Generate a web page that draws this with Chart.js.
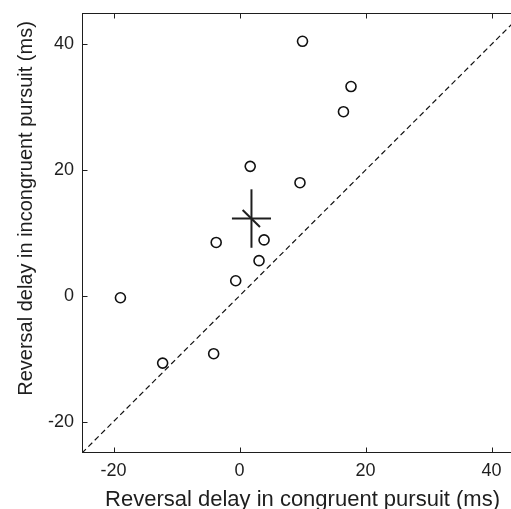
<!DOCTYPE html>
<html><head><meta charset="utf-8">
<script src="https://cdn.jsdelivr.net/npm/chart.js@4"></script>
<style>
html,body{margin:0;padding:0;background:#fff;overflow:hidden;width:511px;height:509px}
#wrap{width:540px;height:509px;position:relative}
canvas{display:block}
</style></head>
<body><div id="wrap"><canvas id="c" width="540" height="509"></canvas></div>
<script>
// ---- data ----
const congruentDelay   = [-18.9, -12.2, -4.1, -3.7, -0.6, 1.7, 3.1, 3.9, 9.6, 10.0, 16.5, 17.7];
const incongruentDelay = [-0.3, -10.7, -9.2, 8.5, 2.4, 20.6, 5.6, 8.9, 18.0, 40.5, 29.3, 33.3];
const axisRange = [-25, 45];
const tickValues = [-20, 0, 20, 40];
const meanPoint = [1.9, 12.3];
const crossHorizontalX = [-1.2, 5.0];
const crossVerticalY = [7.65, 16.95];
const crossDiagonalX = [0.5, 3.25];
const crossDiagonalY = [13.65, 10.95];
const xTitle = 'Reversal delay in congruent pursuit (ms)';
const yTitle = 'Reversal delay in incongruent pursuit (ms)';

const FONT = '"Liberation Sans", Arial, Helvetica, sans-serif';
const INK = '#1e1e1e';

const framePlugin = {
  id: 'frame',
  afterDraw(chart) {
    const ctx = chart.ctx, ca = chart.chartArea;
    const xs = chart.scales.x, ys = chart.scales.y;
    const L = Math.round(ca.left) + 0.5, R = Math.round(ca.right) - 0.5;
    const T = Math.round(ca.top) + 0.5, B = Math.round(ca.bottom) - 0.5;
    ctx.save();
    ctx.strokeStyle = INK; ctx.lineWidth = 1;
    ctx.strokeRect(L, T, R - L, B - T);
    const tl = 5;
    ctx.beginPath();
    tickValues.forEach(v => {
      const px = Math.round(xs.getPixelForValue(v)) + 0.5;
      ctx.moveTo(px, B); ctx.lineTo(px, B - tl);
      ctx.moveTo(px, T); ctx.lineTo(px, T + tl);
      const py = Math.round(ys.getPixelForValue(v)) + 0.5;
      ctx.moveTo(L, py); ctx.lineTo(L + tl, py);
      ctx.moveTo(R, py); ctx.lineTo(R - tl, py);
    });
    ctx.stroke();
    ctx.fillStyle = INK;
    ctx.font = '22px ' + FONT;
    ctx.textAlign = 'center'; ctx.textBaseline = 'alphabetic';
    ctx.fillText(xTitle, (ca.left + ca.right) / 2, 506);
    ctx.translate(31.5, 208.5);
    ctx.rotate(-Math.PI / 2);
    ctx.font = '20px ' + FONT;
    ctx.fillText(yTitle, 0, 0);
    ctx.restore();
  }
};

const lineDs = (pts, extra) => Object.assign({
  data: pts, showLine: true, pointRadius: 0, borderColor: INK, borderWidth: 2,
  fill: false, tension: 0
}, extra || {});

const noPad = s => { s.paddingTop = 0; s.paddingBottom = 0; s.paddingLeft = 0; s.paddingRight = 0; };

new Chart(document.getElementById('c'), {
  type: 'scatter',
  data: {
    datasets: [
      lineDs(axisRange.map(v => ({x: v, y: v})), {borderWidth: 1.2, borderDash: [5.5, 3.5], borderColor: '#111'}),
      {
        data: congruentDelay.map((x, i) => ({x: x, y: incongruentDelay[i]})),
        pointRadius: 5, pointBorderWidth: 1.6, pointBackgroundColor: 'rgba(0,0,0,0)',
        pointBorderColor: '#111', showLine: false
      },
      lineDs(crossHorizontalX.map(x => ({x: x, y: meanPoint[1]}))),
      lineDs(crossVerticalY.map(y => ({x: meanPoint[0], y: y}))),
      lineDs(crossDiagonalX.map((x, i) => ({x: x, y: crossDiagonalY[i]})))
    ]
  },
  options: {
    responsive: false, animation: false, devicePixelRatio: 1,
    layout: {padding: {left: 0, top: 13, right: 17, bottom: 0}},
    plugins: {legend: {display: false}, tooltip: {enabled: false}},
    scales: {
      x: {
        type: 'linear', min: axisRange[0], max: axisRange[1],
        afterBuildTicks: s => { s.ticks = tickValues.map(v => ({value: v})); },
        afterFit: s => { s.height = 56; noPad(s); },
        grid: {display: false, drawTicks: false}, border: {display: false},
        ticks: {font: {family: FONT, size: 18}, color: INK, padding: 7, maxRotation: 0, autoSkip: false}
      },
      y: {
        type: 'linear', min: axisRange[0], max: axisRange[1],
        afterBuildTicks: s => { s.ticks = tickValues.map(v => ({value: v})); },
        afterFit: s => { s.width = 82; noPad(s); },
        grid: {display: false, drawTicks: false}, border: {display: false},
        ticks: {font: {family: FONT, size: 18}, color: INK, padding: 8, autoSkip: false}
      }
    }
  },
  plugins: [framePlugin]
});
</script>
</body></html>
